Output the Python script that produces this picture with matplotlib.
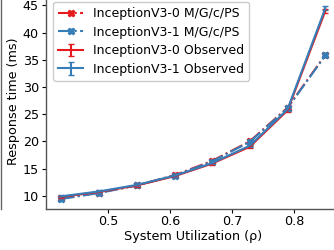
import matplotlib
matplotlib.use("Agg")
import matplotlib.pyplot as plt
from matplotlib.lines import Line2D

util = [0.424, 0.485, 0.546, 0.607, 0.667, 0.728, 0.789, 0.850]
model_0 = [9.5, 10.6, 11.9, 13.8, 16.4, 20.0, 26.2, 35.9]
model_1 = [9.4, 10.5, 11.9, 13.7, 16.3, 19.9, 26.1, 35.8]
obs_0 = [9.8, 10.7, 11.9, 13.6, 15.9, 19.0, 25.7, 44.0]
obs_1 = [9.9, 10.8, 12.0, 13.7, 16.0, 19.2, 25.9, 44.5]
err_0 = [0.2, 0.2, 0.2, 0.2, 0.2, 0.2, 0.3, 0.4]
err_1 = [0.2, 0.2, 0.2, 0.2, 0.2, 0.2, 0.3, 0.4]

red = "#e41a1c"
blue = "#377eb8"

plt.rcParams['font.family'] = ['DejaVu Sans']
plt.rcParams['font.size'] = 9.2

fig = plt.figure(figsize=(3.34, 2.5), dpi=100)
ax = fig.add_axes([46/334, 41.5/250, 294/334, 214/250])

ax.plot(util, model_0, linestyle='-.', marker='X', color=red, lw=1.5, ms=5,
        label='InceptionV3-0 M/G/c/PS')
ax.plot(util, model_1, linestyle='-.', marker='X', color=blue, lw=1.5, ms=5,
        label='InceptionV3-1 M/G/c/PS')
ax.errorbar(util, obs_0, yerr=err_0, color=red, lw=1.5, capsize=2.5,
            label='InceptionV3-0 Observed')
ax.errorbar(util, obs_1, yerr=err_1, color=blue, lw=1.5, capsize=2.5,
            label='InceptionV3-1 Observed')

ax.set_xlim(0.3995, 0.8736)
ax.set_ylim(7.66, 47.0)
ax.set_xticks([0.5, 0.6, 0.7, 0.8])
ax.set_yticks([10, 15, 20, 25, 30, 35, 40, 45])
ax.tick_params(length=3, width=0.8, pad=2, labelsize=9.2)
ax.set_xlabel('System Utilization (ρ)', labelpad=1)
ax.set_ylabel('Response time (ms)', labelpad=2)
for s in ['top', 'right']:
    ax.spines[s].set_visible(False)
for s in ['left', 'bottom']:
    ax.spines[s].set_color('#555555')
    ax.spines[s].set_linewidth(1.0)

ax.legend(loc='upper left', bbox_to_anchor=(7/294, 0.965), borderaxespad=0,
          fontsize=9, handlelength=2.0, borderpad=0.4, labelspacing=0.45,
          handletextpad=0.8, framealpha=1.0)

fig.add_artist(Line2D([0.002, 0.002], [41.5/250, 1.0], transform=fig.transFigure,
                      color='#666666', lw=1.0))

fig.savefig('out.png', dpi=100)
